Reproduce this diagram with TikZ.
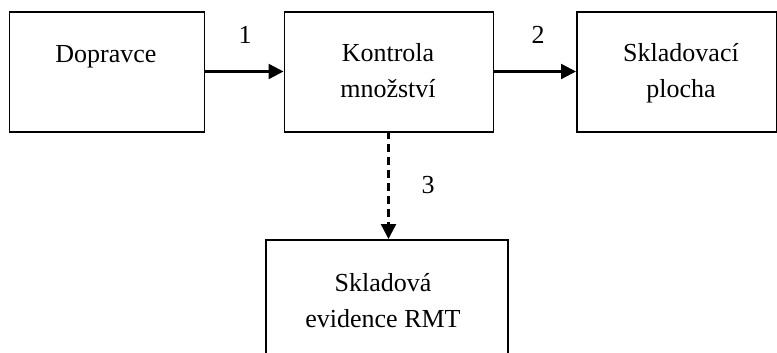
\documentclass[tikz,border=0pt]{standalone}
\usepackage{fontspec}
\setmainfont{Liberation Serif}
\usetikzlibrary{arrows.meta}
\begin{document}
\begin{tikzpicture}[x=1pt,y=-1pt,
  box/.style={draw,line width=1.8pt,inner sep=0pt,anchor=north west},
  lbl/.style={font=\fontsize{26}{36}\selectfont,align=center,inner sep=0pt},
  flow/.style={line width=2.4pt,-{Triangle[length=15pt,width=15pt]}}]
\useasboundingbox (0,0) rectangle (777,353);
% boxes
\node[box,minimum width=195pt,minimum height=120pt] (dop) at (8.5,11) {};
\node[box,minimum width=209pt,minimum height=120pt] (kon) at (283.5,11) {};
\node[box,minimum width=200pt,minimum height=120pt] (skl) at (576,11) {};
\node[box,minimum width=242pt,minimum height=130pt] (evi) at (265,239) {};
% texts (anchored at the baseline of the last line)
\node[lbl,anchor=base] (tdop) at (106,63) {Dopravce};
\node[lbl,anchor=base] (tkon) at (388,98) {Kontrola\\množství};
\node[lbl,anchor=base] (tskl) at (681,98) {Skladovací\\plocha};
\node[lbl,anchor=base] (tevi) at (383,327) {Skladová\\evidence RMT};
% flows
\draw[flow] (dop.east |- 0,71.5) -- (kon.west |- 0,71.5);
\draw[flow] (kon.east |- 0,71.5) -- (skl.west |- 0,71.5);
\draw[flow,dash pattern=on 8pt off 5pt] (388.5,131) coordinate (ks) -- (ks |- evi.north);
% flow numbers
\node[lbl] (n1) at (245,35) {1};
\node[lbl] (n2) at (538,35) {2};
\node[lbl] (n3) at (428,185) {3};
\end{tikzpicture}
\end{document}
